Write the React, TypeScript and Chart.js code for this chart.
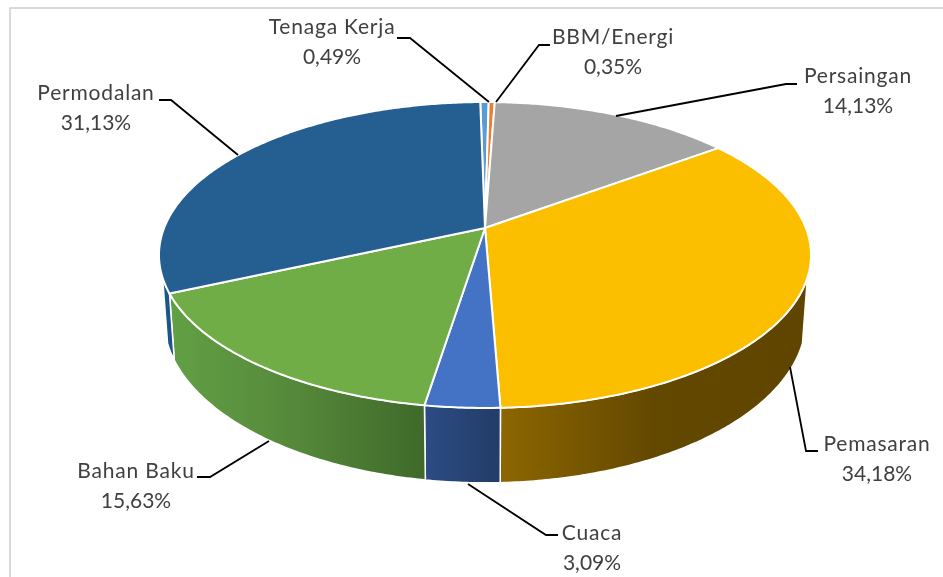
import React, { useEffect, useRef } from "react";
import { Chart, registerables } from "chart.js";

Chart.register(...registerables);

const categories = ["Tenaga Kerja", "BBM/Energi", "Persaingan", "Pemasaran", "Cuaca", "Bahan Baku", "Permodalan"];
const shares = [0.49, 0.35, 14.13, 34.18, 3.09, 15.63, 31.13];
const topColors = ["#5b9bd5", "#ed7d31", "#a5a5a5", "#fcbf00", "#4472c4", "#70ad47", "#255e91"];
const wallStops = [
  ["#3f7ab0", "#3f7ab0"],
  ["#b05a20", "#b05a20"],
  ["#777777", "#777777"],
  ["#8c6600", "#634800", "#604500"],
  ["#2c4c84", "#233c68"],
  ["#62a044", "#55883a", "#3f6a2a"],
  ["#1d5a92", "#1c5488"],
];

// Leader line routes and label centres, as page annotations
const callouts = [
  { x: 332, y: 27, line: [[397, 38], [410, 38], [489, 102]] },
  { x: 613, y: 37, line: [[550, 45], [539, 45], [496, 102]] },
  { x: 858, y: 76, line: [[797, 84], [786, 84], [616, 116]] },
  { x: 877, y: 444, line: [[790, 367], [806, 451], [818, 451]] },
  { x: 592, y: 533, line: [[468, 484], [546, 535], [558, 535]] },
  { x: 136, y: 471, line: [[269, 441], [210, 477], [197, 477]] },
  { x: 96, y: 93, line: [[238, 155], [171, 100], [159, 100]] },
];

const P = 0.1765;
const topFace = { cx: 485, cy: 228, X: 320.9, Y: 148.2 };
const bottomFace = { cx: 485, cy: 290, X: 316, Y: 158.8 };
const WALL_FROM = (108.5 * Math.PI) / 180;
const WALL_TO = (251.5 * Math.PI) / 180;

type Face = { cx: number; cy: number; X: number; Y: number };

function project(face: Face, phi: number): [number, number] {
  const u = Math.sin(phi);
  const v = -Math.cos(phi);
  const d = 1 - P * v;
  return [face.cx + (face.X * u) / d, face.cy + (face.Y * v) / d];
}

function trace(ctx: CanvasRenderingContext2D, face: Face, a: number, b: number, join: boolean) {
  const n = Math.max(2, Math.ceil(Math.abs(b - a) / 0.01));
  for (let i = 0; i <= n; i++) {
    const [x, y] = project(face, a + ((b - a) * i) / n);
    if (i === 0 && !join) ctx.moveTo(x, y);
    else ctx.lineTo(x, y);
  }
}

const pie3d = {
  id: "pie3d",
  beforeDatasetDraw(chart: any) {
    const ctx: CanvasRenderingContext2D = chart.ctx;
    const arcs = chart.getDatasetMeta(0).data;
    const spans = arcs.map((arc: any) => [arc.startAngle + Math.PI / 2, arc.endAngle + Math.PI / 2]);

    ctx.save();
    ctx.lineJoin = "round";

    // Frame of the chart area
    ctx.strokeStyle = "#d9d9d9";
    ctx.lineWidth = 2;
    ctx.beginPath();
    ctx.moveTo(10, 577);
    ctx.lineTo(10, 8);
    ctx.lineTo(943, 8);
    ctx.stroke();

    // Side walls
    spans.forEach(([s, e]: number[], i: number) => {
      const a = Math.max(s, WALL_FROM);
      const b = Math.min(e, WALL_TO);
      if (b <= a) return;
      const x0 = project(topFace, a)[0];
      const x1 = project(topFace, b)[0];
      const g = ctx.createLinearGradient(Math.min(x0, x1), 0, Math.max(x0, x1), 0);
      wallStops[i].forEach((c, k, all) => g.addColorStop(k / (all.length - 1), c));
      ctx.beginPath();
      trace(ctx, topFace, a, b, false);
      trace(ctx, bottomFace, b, a, true);
      ctx.closePath();
      ctx.fillStyle = g;
      ctx.fill();
      ctx.strokeStyle = "#ffffff";
      ctx.lineWidth = 1.5;
      ctx.stroke();
    });

    // Top face
    spans.forEach(([s, e]: number[], i: number) => {
      ctx.beginPath();
      ctx.moveTo(topFace.cx, topFace.cy);
      trace(ctx, topFace, s, e, true);
      ctx.closePath();
      ctx.fillStyle = arcs[i].options.backgroundColor;
      ctx.fill();
      ctx.strokeStyle = "#ffffff";
      ctx.lineWidth = 2;
      ctx.stroke();
    });

    ctx.restore();
    return false;
  },
  afterDatasetsDraw(chart: any) {
    const ctx: CanvasRenderingContext2D = chart.ctx;
    ctx.save();
    ctx.strokeStyle = "#000000";
    ctx.lineWidth = 1.8;
    callouts.forEach((c, i) => {
      ctx.beginPath();
      c.line.forEach(([x, y], k) => (k ? ctx.lineTo(x, y) : ctx.moveTo(x, y)));
      ctx.stroke();
      ctx.fillStyle = "#404040";
      ctx.font = "21px Lato";
      ctx.textAlign = "center";
      ctx.textBaseline = "middle";
      (ctx as any).letterSpacing = "0.8px";
      ctx.fillText(categories[i], c.x, c.y);
      (ctx as any).letterSpacing = "0px";
      ctx.fillText(shares[i].toFixed(2).replace(".", ",") + "%", c.x, c.y + 30);
    });
    ctx.restore();
  },
};

export default function App() {
  const ref = useRef<HTMLCanvasElement>(null);
  useEffect(() => {
    document.body.style.margin = "0";
    document.body.style.background = "#ffffff";
    const chart = new Chart(ref.current!, {
      type: "pie",
      data: {
        labels: categories,
        datasets: [{ data: shares, backgroundColor: topColors, borderColor: "#ffffff", borderWidth: 2 }],
      },
      options: {
        animation: false,
        responsive: false,
        rotation: -1,
        plugins: { legend: { display: false }, tooltip: { enabled: false }, title: { display: false } },
      },
      plugins: [pie3d],
    } as any);
    return () => chart.destroy();
  }, []);
  return <canvas ref={ref} width={943} height={577} style={{ display: "block" }} />;
}
